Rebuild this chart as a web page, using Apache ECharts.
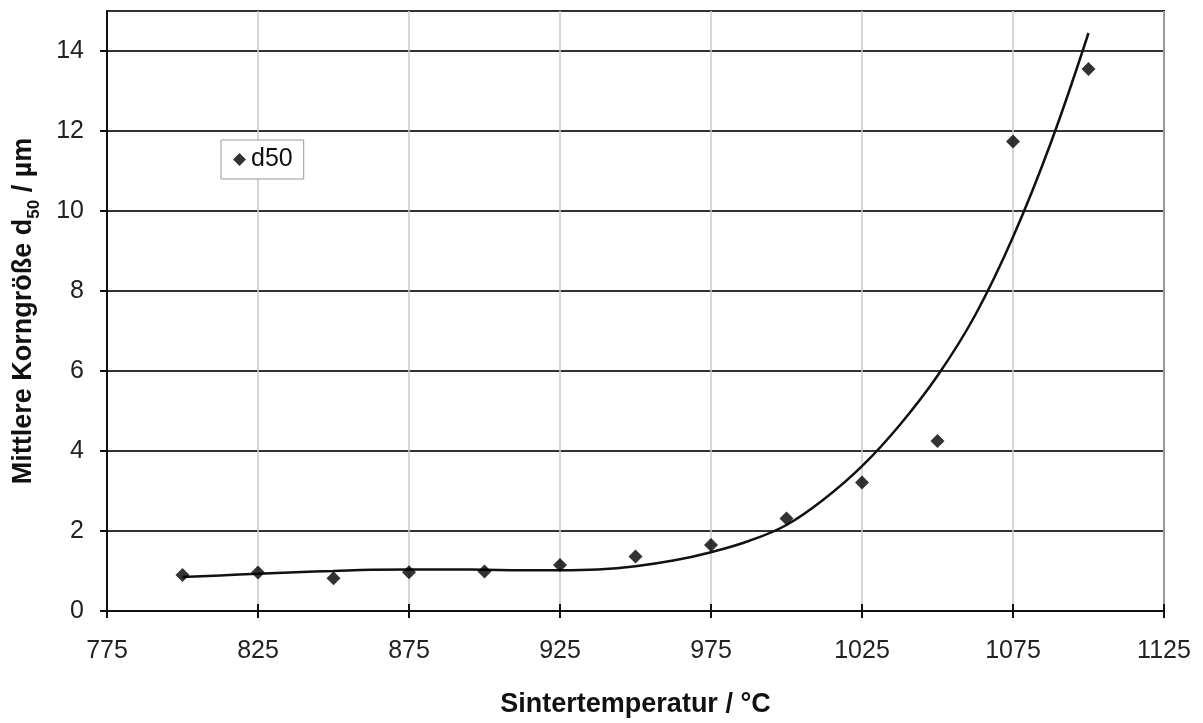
<!DOCTYPE html>
<html>
<head>
<meta charset="utf-8">
<script src="https://cdn.jsdelivr.net/npm/echarts@6/dist/echarts.min.js"></script>
<style>
  html, body { margin: 0; padding: 0; background: #fff; }
  #chart { width: 1203px; height: 723px; }
</style>
</head>
<body>
<div id="chart"></div>
<script>
// Messwerte d50
const temps = [800, 825, 850, 875, 900, 925, 950, 975, 1000, 1025, 1050, 1075, 1100];
const d50 = [0.90, 0.96, 0.82, 0.97, 0.99, 1.15, 1.36, 1.65, 2.31, 3.21, 4.25, 11.74, 13.55];

// Trendlinie
const trendTemps = [800, 812.5, 825, 837.5, 850, 862.5, 875, 887.5, 900, 912.5, 925, 937.5, 950,
  962.5, 975, 987.5, 1000, 1012.5, 1025, 1037.5, 1050, 1062.5, 1075, 1087.5, 1100];
const trendVals = [0.85, 0.89, 0.93, 0.97, 1.0, 1.03, 1.04, 1.04, 1.03, 1.02, 1.02, 1.04, 1.12,
  1.26, 1.47, 1.75, 2.15, 2.8, 3.62, 4.65, 5.88, 7.4, 9.35, 11.7, 14.45];

// Achsenbeschriftung
const xTicks = [775, 825, 875, 925, 975, 1025, 1075, 1125];
const yTicks = [0, 2, 4, 6, 8, 10, 12, 14];

const font = 'Liberation Sans, Arial, sans-serif';

let chart = echarts.init(document.getElementById('chart'));

chart.setOption({
  animation: false,
  backgroundColor: '#fff',
  grid: {
    left: 107, right: 39, top: 11, bottom: 111,
    show: true, borderColor: '#111', borderWidth: 2, backgroundColor: 'transparent'
  },
  legend: {
    data: ['d50'],
    left: 221, top: 140,
    orient: 'vertical',
    backgroundColor: '#fff',
    borderColor: '#999', borderWidth: 1,
    padding: [7, 11, 7, 12],
    itemWidth: 13, itemHeight: 13, itemGap: 4,
    textStyle: { fontFamily: font, fontSize: 25, color: '#111' }
  },
  xAxis: [{
    type: 'value',
    min: 775, max: 1125,
    name: 'Sintertemperatur / °C',
    nameLocation: 'middle',
    nameGap: 80,
    nameTextStyle: { fontFamily: font, fontSize: 27, fontWeight: 'bold', color: '#111' },
    axisLine: { show: true, lineStyle: { color: '#111', width: 2 } },
    axisTick: { show: true, length: 7, customValues: xTicks, lineStyle: { color: '#111', width: 2 } },
    axisLabel: {
      customValues: xTicks, margin: 28, fontFamily: font, fontSize: 25, color: '#222',
      formatter: v => String(v)
    },
    splitLine: { show: true, lineStyle: { color: '#c8c8c8', width: 1.5 } }
  }, {
    // nach innen zeigende Striche
    type: 'value',
    position: 'bottom',
    min: 775, max: 1125,
    axisLine: { show: false },
    axisTick: { show: true, inside: true, length: 7, customValues: xTicks, lineStyle: { color: '#111', width: 2 } },
    axisLabel: { show: false },
    splitLine: { show: false }
  }],
  yAxis: {
    type: 'value',
    min: 0, max: 15, interval: 2,
    name: 'Mittlere Korngröße d{sub|50} / µm',
    nameLocation: 'middle',
    nameGap: 70,
    nameTextStyle: {
      fontFamily: font, fontSize: 27, fontWeight: 'bold', color: '#111',
      rich: {
        sub: { fontFamily: font, fontSize: 17, fontWeight: 'bold', color: '#111', verticalAlign: 'bottom', padding: [0, 0, -6, 0] }
      }
    },
    axisLine: { show: true, lineStyle: { color: '#111', width: 2 } },
    axisTick: { show: true, length: 7, lineStyle: { color: '#111', width: 2 } },
    axisLabel: {
      showMaxLabel: false, margin: 23, fontFamily: font, fontSize: 25, color: '#222',
      formatter: v => String(v)
    },
    splitLine: { show: true, lineStyle: { color: '#333', width: 2 } }
  },
  series: [{
    name: 'Trend',
    type: 'line',
    data: trendTemps.map((t, i) => [t, trendVals[i]]),
    smooth: 0.4,
    showSymbol: false,
    lineStyle: { color: '#111', width: 2.5 },
    z: 3
  }, {
    name: 'd50',
    type: 'scatter',
    data: temps.map((t, i) => [t, d50[i]]),
    symbol: 'diamond',
    symbolSize: 14,
    itemStyle: { color: '#000' },
    z: 4
  }]
});

window.onresize = function () {
  chart.resize();
};
</script>
</body>
</html>
